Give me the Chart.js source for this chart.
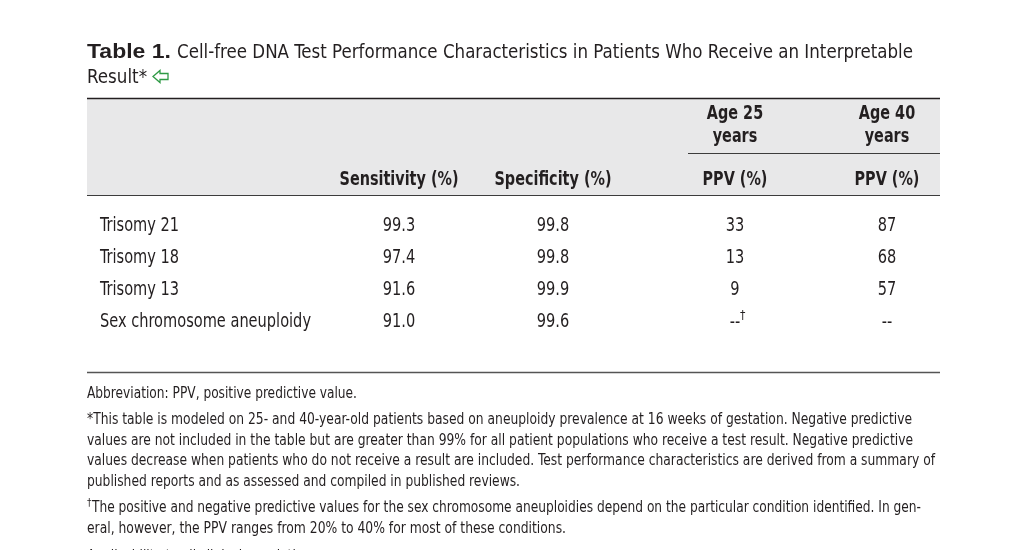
<!DOCTYPE html>
<html>
<head>
<meta charset="utf-8">
<script src="https://cdn.jsdelivr.net/npm/chart.js@4.4.1/dist/chart.umd.min.js"></script>
<style>
  html, body { margin: 0; padding: 0; background: #fff; }
</style>
</head>
<body>
<canvas id="tableChart" width="1024" height="550"></canvas>
<script>
// table data
const rowLabels = ["Trisomy 21", "Trisomy 18", "Trisomy 13", "Sex chromosome aneuploidy"];
const sensitivity = [99.3, 97.4, 91.6, 91.0];
const specificity = [99.8, 99.8, 99.9, 99.6];
const ppvAge25 = [33, 13, 9, null];
const ppvAge40 = [87, 68, 57, null];
const columnHeads = ["Sensitivity (%)", "Specificity (%)", "PPV (%)", "PPV (%)"];
const groupHeads = [null, null, ["Age 25", "years"], ["Age 40", "years"]];

const titleBold = "Table 1.";
const titleLines = ["Cell-free DNA Test Performance Characteristics in Patients Who Receive an Interpretable", "Result*"];
const footAbbrev = "Abbreviation: PPV, positive predictive value.";
const footStar = [
  "*This table is modeled on 25- and 40-year-old patients based on aneuploidy prevalence at 16 weeks of gestation. Negative predictive",
  "values are not included in the table but are greater than 99% for all patient populations who receive a test result. Negative predictive",
  "values decrease when patients who do not receive a result are included. Test performance characteristics are derived from a summary of",
  "published reports and as assessed and compiled in published reviews."
];
const footDagger = [
  "The positive and negative predictive values for the sex chromosome aneuploidies depend on the particular condition identified. In gen-",
  "eral, however, the PPV ranges from 20% to 40% for most of these conditions."
];
const footCut = "Applicability to all clinical populations";

const valueColumns = [sensitivity, specificity, ppvAge25, ppvAge40];

// layout
const ink = "#231f20";
const narrow = '"Liberation Sans Narrow", "DejaVu Sans Condensed", "Liberation Sans", sans-serif';
const colCenters = [399, 553, 735, 887];
const colDecimals = [1, 1, 0, 0];
const tableLeft = 87, tableRight = 940;

function drawFit(c, text, x, y, width, align) {
  const w = c.measureText(text).width;
  const s = width / w;
  c.save();
  c.translate(x, y);
  c.scale(s, 1);
  c.textAlign = "left";
  const dx = align === "center" ? -w / 2 : 0;
  c.fillText(text, dx, 0);
  c.restore();
}

function drawScaled(c, text, x, y, s, align) {
  const w = c.measureText(text).width;
  c.save();
  c.translate(x, y);
  c.scale(s, 1);
  c.textAlign = "left";
  const dx = align === "center" ? -w / 2 : 0;
  c.fillText(text, dx, 0);
  c.restore();
}

const tablePlugin = {
  id: "tablePlugin",
  beforeDraw(chart) {
    const c = chart.ctx;
    c.save();
    c.fillStyle = "#fff";
    c.fillRect(0, 0, chart.width, chart.height);
    // header band
    c.fillStyle = "#e8e8e9";
    c.fillRect(tableLeft, 98, tableRight - tableLeft, 97);
    c.strokeStyle = ink;
    c.lineWidth = 1.5;
    c.beginPath();
    c.moveTo(tableLeft, 98.5); c.lineTo(tableRight, 98.5);
    c.stroke();
    c.lineWidth = 1.2;
    c.strokeStyle = "#3c3c3c";
    c.beginPath();
    c.moveTo(688, 153.5); c.lineTo(tableRight, 153.5);
    c.moveTo(tableLeft, 195.5); c.lineTo(tableRight, 195.5);
    c.stroke();
    c.strokeStyle = "#555";
    c.lineWidth = 1.5;
    c.beginPath();
    c.moveTo(tableLeft, 372.5); c.lineTo(tableRight, 372.5);
    c.stroke();
    c.restore();
  },
  afterDraw(chart) {
    const c = chart.ctx;
    const y = chart.scales.y;
    c.save();
    c.fillStyle = ink;
    c.textBaseline = "alphabetic";

    // title
    c.font = 'bold 20px "Liberation Sans", Arial, sans-serif';
    drawFit(c, titleBold, 87, 58, 84);
    c.font = "20px " + narrow;
    drawFit(c, titleLines[0], 177, 58, 736);
    drawFit(c, titleLines[1], 87, 83, 60);
    // green return arrow
    c.strokeStyle = "#2f9a45";
    c.lineWidth = 1.3;
    c.beginPath();
    c.moveTo(153, 76.5);
    c.lineTo(160, 70.5);
    c.lineTo(160, 73.5);
    c.lineTo(168, 73.5);
    c.lineTo(168, 79.5);
    c.lineTo(160, 79.5);
    c.lineTo(160, 82.5);
    c.closePath();
    c.stroke();

    // header
    c.font = "bold 19px " + narrow;
    const sBold = 119 / c.measureText(columnHeads[0]).width;
    columnHeads.forEach((h, i) => drawScaled(c, h, colCenters[i], 185, sBold, "center"));
    groupHeads.forEach((g, i) => {
      if (!g) return;
      drawScaled(c, g[0], colCenters[i], 119, sBold, "center");
      drawScaled(c, g[1], colCenters[i], 142, sBold, "center");
    });

    // body rows, placed with the category scale
    c.font = "20px " + narrow;
    const sReg = 211 / c.measureText(rowLabels[3]).width;
    rowLabels.forEach((label, r) => {
      const base = y.getPixelForValue(r) + 7;
      drawScaled(c, label, 100, base, sReg, "left");
      valueColumns.forEach((col, k) => {
        const v = col[r];
        if (v === null) {
          drawScaled(c, "--", colCenters[k], base + 1, sReg, "center");
          if (k === 2) {
            c.font = "12px " + narrow;
            c.fillText("\u2020", colCenters[k] + 5, base - 8);
            c.font = "20px " + narrow;
          }
        } else {
          drawScaled(c, v.toFixed(colDecimals[k]), colCenters[k], base, sReg, "center");
        }
      });
    });

    // footnotes
    c.font = "16px " + narrow;
    drawFit(c, footAbbrev, 87, 398, 270);
    const starW = [825, 826, 848, 433];
    footStar.forEach((t, i) => drawFit(c, t, 87, 424 + i * 20.5, starW[i]));
    c.font = "10px " + narrow;
    c.fillText("\u2020", 87, 506);
    c.font = "16px " + narrow;
    drawFit(c, footDagger[0], 92, 512, 829);
    drawFit(c, footDagger[1], 87, 533, 479);
    const sFoot = 270 / c.measureText(footAbbrev).width;
    drawScaled(c, footCut, 87, 561, sFoot, "left");
    c.restore();
  }
};

new Chart(document.getElementById("tableChart"), {
  type: "scatter",
  data: { labels: rowLabels, datasets: [] },
  options: {
    responsive: false,
    animation: false,
    events: [],
    layout: { padding: { top: 208, bottom: 214, left: 0, right: 0 } },
    scales: {
      x: { type: "linear", display: false, min: 0, max: 1 },
      y: { type: "category", labels: rowLabels, offset: true, display: false }
    },
    plugins: { legend: { display: false }, tooltip: { enabled: false } }
  },
  plugins: [tablePlugin]
});
</script>
</body>
</html>
